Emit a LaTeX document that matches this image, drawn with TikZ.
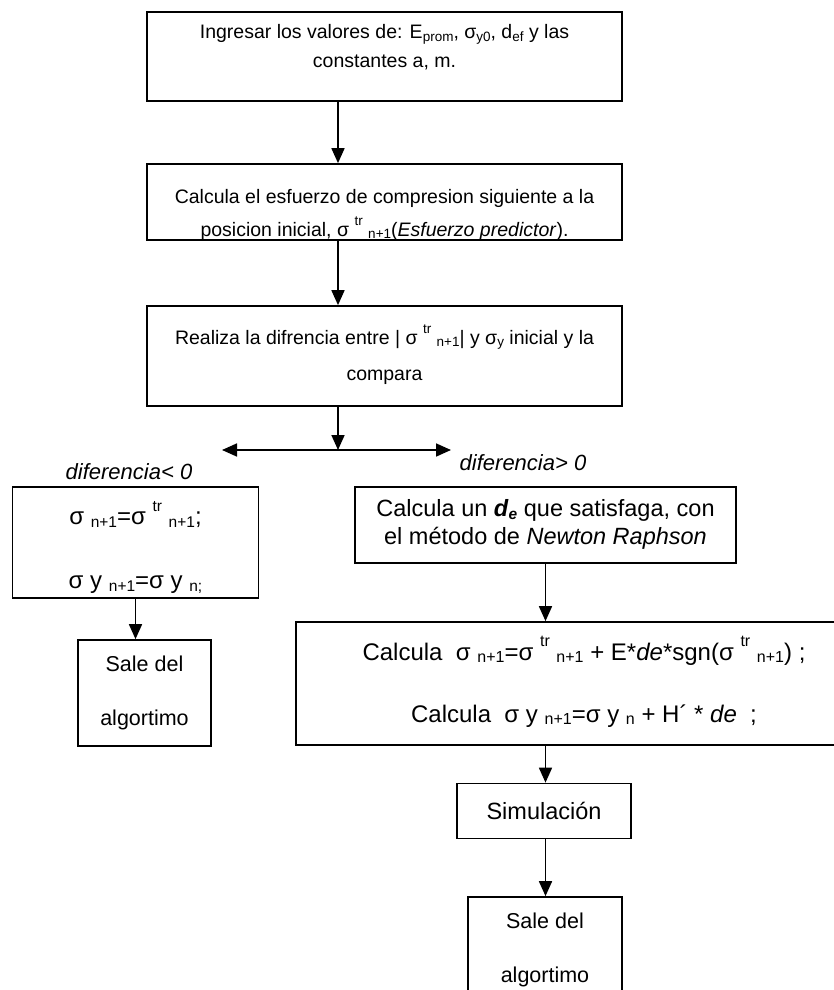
\documentclass[tikz,border=0pt]{standalone}
\usepackage{fontspec}
\setmainfont{Liberation Sans}
\usetikzlibrary{arrows.meta,positioning}

% text size, index size, line distance
\newcommand{\fs}[3]{\fontsize{#1}{#3}\selectfont\def\subsz{\fontsize{#2}{#2}\selectfont}}
\newcommand{\lo}[1]{\raisebox{-0.12em}{\subsz #1}}
\newcommand{\hi}[1]{\raisebox{0.55em}{\subsz #1}}
\newcommand{\lines}[1]{\begin{tabular}{@{}c@{}}#1\end{tabular}}

\begin{document}
\begin{tikzpicture}[x=1pt, y=-1pt, line width=1.7pt,
		main/.style={draw, rectangle, align=center, inner sep=0pt},
		small/.style={font=\fs{19.5}{13.5}{24}},
		big/.style={font=\fs{23.5}{15.5}{28}},
		arr/.style={-{Triangle[length=15pt,width=13pt]}},
		lab/.style={font=\fs{22}{15}{26}\itshape}]
		\useasboundingbox (0,0) rectangle (834,990);

		\node[main, small, minimum width=475pt, minimum height=89pt] (1) at (384.5,56.5)
			{\raisebox{8pt}[\height][\depth]{\lines{Ingresar los valores de: E\lo{prom}, σ\lo{y0}, d\lo{ef} y las\\[5pt] constantes a, m.}}};
		\node[main, small, minimum width=475pt, minimum height=76pt] (2) at (384.5,202)
			{\raisebox{-13pt}[\height][\depth]{\lines{Calcula el esfuerzo de compresion siguiente a la\\[6pt] posicion inicial, σ \hi{tr} \lo{n+1}(\textit{Esfuerzo predictor}).}}};
		\node[main, small, minimum width=475pt, minimum height=100pt] (3) at (384.5,356)
			{\lines{Realiza la difrencia entre | σ \hi{tr} \lo{n+1}| y σ\lo{y} inicial y la\\[12pt] compara}};

		\coordinate (s) at (338,0);
		\coordinate (j) at (338,450);
		\coordinate (l) at (222,450);
		\coordinate (r) at (451,450);

		\node[lab] (dpos) at (523,463) {diferencia> 0};
		\node[lab] (dneg) at (129,472) {diferencia< 0};

		\node[main, font=\fs{24}{15.5}{28}, minimum width=246pt, minimum height=111pt] (4) at (135.5,542.5)
			{\raisebox{-7pt}[\height][\depth]{\lines{σ \lo{n+1}=σ \hi{tr} \lo{n+1};\\[36pt] σ y \lo{n+1}=σ y \lo{n;}}}};
		\node[main, font=\fs{21.5}{15}{26}, minimum width=133pt, minimum height=106pt] (5) at (144.5,693)
			{\lines{Sale del\\[28pt] algortimo}};

		\node[main, big, minimum width=381pt, minimum height=76pt] (6) at (545.5,525)
			{\lines{Calcula un \textbf{\textit{d}}\lo{\textbf{\textit{e}}} que satisfaga, con\\ el método de \textit{Newton Raphson}}};
		\node[main, font=\fs{24}{16}{28}, minimum width=576pt, minimum height=123pt] (7) at (584,683.5)
			{\lines{Calcula\ \ σ \lo{n+1}=σ \hi{tr} \lo{n+1} + E*\textit{de}*sgn(σ \hi{tr} \lo{n+1}) ;\\[34pt] Calcula\ \ σ y \lo{n+1}=σ y \lo{n} + H´ * \textit{de}\ \ ;}};
		\node[main, big, minimum width=174pt, minimum height=55pt] (8) at (544,811) {Simulación};
		\node[main, font=\fs{21.5}{15}{26}, minimum width=154pt, minimum height=106pt] (9) at (545,950)
			{\lines{Sale del\\[28pt] algortimo}};

		\draw[arr] (1.south -| s) -- (2.north -| s);
		\draw[arr] (2.south -| s) -- (3.north -| s);
		\draw[arr] (3.south -| j) -- (j);
		\draw[{Triangle[length=15pt,width=13pt]}-{Triangle[length=15pt,width=13pt]}] (l) -- (r);
		\draw[arr] (4.south) -- (5.north -| 4.south);
		\draw[arr] (6.south) -- (7.north -| 6.south);
		\draw[arr] (7.south -| 6.south) -- (8.north -| 6.south);
		\draw[arr] (8.south -| 6.south) -- (9.north -| 6.south);
	\end{tikzpicture}
\end{document}
